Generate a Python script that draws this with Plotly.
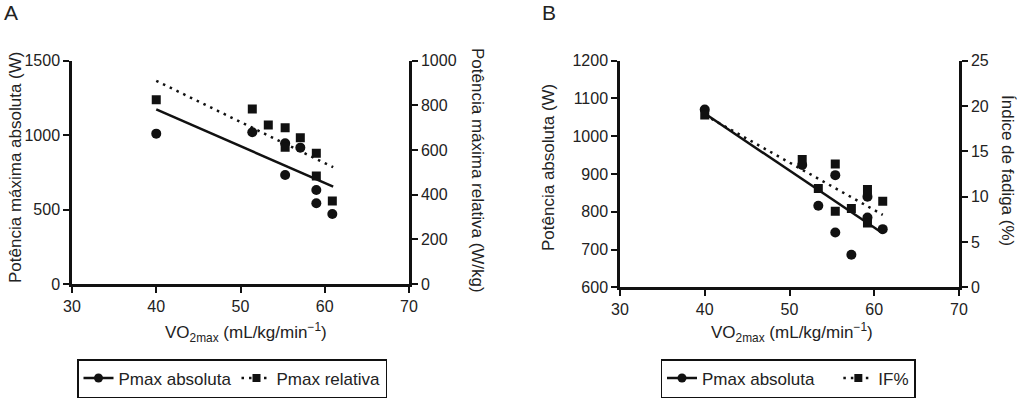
import plotly.graph_objects as go

# ---------------- data ----------------
# Panel A
A_vo2_abs = [40, 51.4, 55.3, 55.3, 57.1, 59.0, 59.0, 60.9]
A_pmax_abs = [1010, 1019, 945, 732, 916, 631, 542, 470]
A_vo2_rel = [40, 51.4, 53.3, 55.3, 55.3, 57.1, 59.0, 59.0, 60.9]
A_pmax_rel = [825, 784, 712, 700, 612, 655, 585, 484, 372]
A_fit_x = [40, 61]
A_fit_abs = [1173, 654]
A_fit_rel = [910, 523]

# Panel B
B_vo2_abs = [40, 51.5, 53.4, 55.4, 55.4, 57.3, 59.2, 59.2, 61.0]
B_pmax_abs = [1071, 924, 816, 897, 745, 686, 840, 785, 754]
B_vo2_if = [40, 51.5, 53.4, 55.4, 55.4, 57.3, 59.2, 59.2, 61.0]
B_if = [19.0, 14.1, 10.9, 13.6, 8.4, 8.7, 10.8, 7.1, 9.5]
B_fit_x = [40, 61]
B_fit_abs = [1060, 743]
B_fit_if = [19.0, 8.0]

x_ticks = [30, 40, 50, 60, 70]
A_left_ticks = [0, 500, 1000, 1500]
A_right_ticks = [0, 200, 400, 600, 800, 1000]
B_left_ticks = [600, 700, 800, 900, 1000, 1100, 1200]
B_right_ticks = [0, 5, 10, 15, 20, 25]

# ---------------- styling ----------------
W, H = 1024, 398
FONT = "Liberation Sans, Arial, sans-serif"
TXT = "#222222"
INK = "#111111"
NBSP = "\u00a0"


def px(x):
    return x / W


def py(y):
    return 1 - y / H


fig = go.Figure()

# Panel A traces
fig.add_trace(go.Scatter(x=A_fit_x, y=A_fit_abs, mode="lines", xaxis="x", yaxis="y",
                         line=dict(color=INK, width=2.5), showlegend=False))
fig.add_trace(go.Scatter(x=A_fit_x, y=A_fit_rel, mode="lines", xaxis="x", yaxis="y2",
                         line=dict(color=INK, width=2.5, dash="2.5px,5px"), showlegend=False))
fig.add_trace(go.Scatter(x=A_vo2_abs, y=A_pmax_abs, mode="markers", xaxis="x", yaxis="y",
                         marker=dict(symbol="circle", size=10, color=INK), showlegend=False))
fig.add_trace(go.Scatter(x=A_vo2_rel, y=A_pmax_rel, mode="markers", xaxis="x", yaxis="y2",
                         marker=dict(symbol="square", size=9, color=INK), showlegend=False))
# legend entries A
fig.add_trace(go.Scatter(x=[None], y=[None], mode="lines+markers", name="Pmax absoluta",
                         xaxis="x", yaxis="y", legend="legend",
                         line=dict(color=INK, width=2.5), marker=dict(symbol="circle", size=9, color=INK)))
fig.add_trace(go.Scatter(x=[None], y=[None], mode="lines+markers", name="Pmax relativa",
                         xaxis="x", yaxis="y", legend="legend",
                         line=dict(color=INK, width=2.5, dash="2.5px,5px"),
                         marker=dict(symbol="square", size=8, color=INK)))

# Panel B traces
fig.add_trace(go.Scatter(x=B_fit_x, y=B_fit_abs, mode="lines", xaxis="x2", yaxis="y3",
                         line=dict(color=INK, width=2.5), showlegend=False))
fig.add_trace(go.Scatter(x=B_fit_x, y=B_fit_if, mode="lines", xaxis="x2", yaxis="y4",
                         line=dict(color=INK, width=2.5, dash="2.5px,5px"), showlegend=False))
fig.add_trace(go.Scatter(x=B_vo2_abs, y=B_pmax_abs, mode="markers", xaxis="x2", yaxis="y3",
                         marker=dict(symbol="circle", size=10, color=INK), showlegend=False))
fig.add_trace(go.Scatter(x=B_vo2_if, y=B_if, mode="markers", xaxis="x2", yaxis="y4",
                         marker=dict(symbol="square", size=9, color=INK), showlegend=False))
fig.add_trace(go.Scatter(x=[None], y=[None], mode="lines+markers", name="Pmax absoluta" + NBSP * 4,
                         xaxis="x2", yaxis="y3", legend="legend2",
                         line=dict(color=INK, width=2.5), marker=dict(symbol="circle", size=9, color=INK)))
fig.add_trace(go.Scatter(x=[None], y=[None], mode="lines+markers", name="IF%",
                         xaxis="x2", yaxis="y3", legend="legend2",
                         line=dict(color=INK, width=2.5, dash="2.5px,5px"),
                         marker=dict(symbol="square", size=8, color=INK)))

axis_common = dict(showline=True, linecolor=INK, linewidth=2.5, ticks="outside", ticklen=6,
                   tickwidth=2, tickcolor=INK, showgrid=False, zeroline=False, automargin=False,
                   tickfont=dict(family=FONT, size=16, color=TXT))

A_dom_x = [px(72), px(409)]
B_dom_x = [px(620), px(959)]
A_dom_y = [py(284), py(60.7)]
B_dom_y = [py(287.3), py(60.7)]

fig.update_layout(
    width=W, height=H,
    margin=dict(l=0, r=0, t=0, b=0, autoexpand=False),
    paper_bgcolor="white", plot_bgcolor="white",
    font=dict(family=FONT, color=TXT),
    xaxis=dict(domain=A_dom_x, range=[30, 70], tickvals=x_ticks, anchor="y", **axis_common),
    yaxis=dict(domain=A_dom_y, range=[0, 1500], tickvals=A_left_ticks, anchor="x", **axis_common),
    yaxis2=dict(range=[0, 1000], tickvals=A_right_ticks, overlaying="y", side="right", anchor="x",
                **axis_common),
    xaxis2=dict(domain=B_dom_x, range=[30, 70], tickvals=x_ticks, anchor="y3", **axis_common),
    yaxis3=dict(domain=B_dom_y, range=[600, 1200], tickvals=B_left_ticks, anchor="x2", **axis_common),
    yaxis4=dict(range=[0, 25], tickvals=B_right_ticks, overlaying="y3", side="right", anchor="x2",
                **axis_common),
    legend=dict(orientation="h", x=px(232), y=py(359), xanchor="center", yanchor="top",
                bordercolor=INK, borderwidth=1.5, font=dict(family=FONT, size=17, color=TXT),
                bgcolor="white"),
    legend2=dict(orientation="h", x=px(788), y=py(359), xanchor="center", yanchor="top",
                 bordercolor=INK, borderwidth=1.5, font=dict(family=FONT, size=17, color=TXT),
                 bgcolor="white"),
)

annotations = [
    dict(text="A", x=px(11), y=py(13), size=21),
    dict(text="B", x=px(549), y=py(13), size=21),
    dict(text="Potência máxima absoluta (W)", x=px(15), y=py(168), size=17, angle=-90),
    dict(text="Potência máxima relativa (W/kg)", x=px(477), y=py(170), size=17, angle=90),
    dict(text="VO<sub>2max</sub> (mL/kg/min<sup>−1</sup>)", x=px(246), y=py(332), size=17),
    dict(text="Potência absoluta (W)", x=px(548), y=py(168), size=17, angle=-90),
    dict(text="Índice de fadiga (%)", x=px(1007), y=py(170), size=17, angle=90),
    dict(text="VO<sub>2max</sub> (mL/kg/min<sup>−1</sup>)", x=px(792), y=py(332), size=17),
]
for a in annotations:
    fig.add_annotation(text=a["text"], x=a["x"], y=a["y"], xref="paper", yref="paper",
                       xanchor="center", yanchor="middle", showarrow=False,
                       textangle=a.get("angle", 0),
                       font=dict(family=FONT, size=a["size"], color=TXT))

fig.write_html("out.html", config={"displayModeBar": False},
               post_script="document.body.style.margin='0px';document.body.style.overflow='hidden';")
